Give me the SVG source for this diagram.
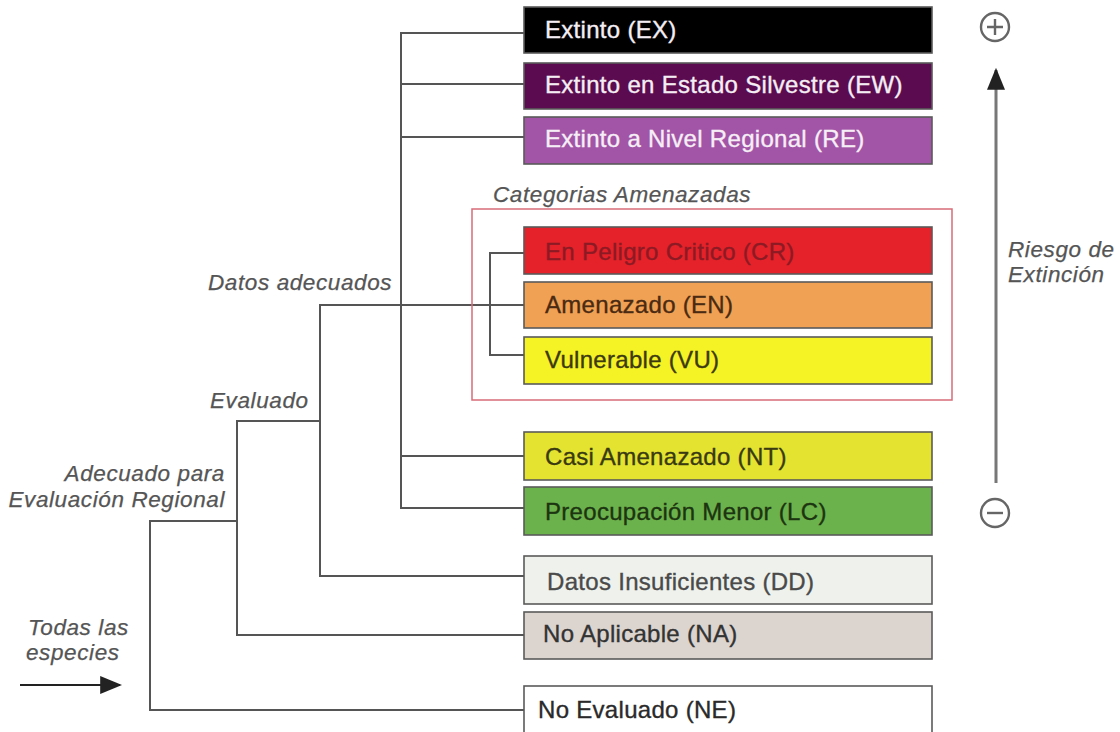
<svg xmlns="http://www.w3.org/2000/svg" width="1120" height="732" viewBox="0 0 1120 732">
<defs>
<style>
.box{stroke:#5a5a5a;stroke-width:1.6}
.bt{font-family:"Liberation Sans",Arial,sans-serif;font-size:24px;letter-spacing:0.3px;stroke-width:0.35px}
.lbl{font-family:"Liberation Sans",Arial,sans-serif;font-size:22.5px;font-style:italic;fill:#555;stroke:#555;stroke-width:0.25px;letter-spacing:0.6px}
.con{fill:none;stroke:#555;stroke-width:2}
.sym{fill:none;stroke:#666;stroke-width:2.4}
</style>
<marker id="ah2" viewBox="0 0 10 10" refX="9" refY="5" markerWidth="22" markerHeight="18" markerUnits="userSpaceOnUse" orient="auto" preserveAspectRatio="none">
<path d="M0,0 L10,5 L0,10 z" fill="#222"/>
</marker>
</defs>
<rect width="1120" height="732" fill="#fff"/>

<g id="connectors">
<path class="con" d="M524,33 H401 V508 H524 M401,84 H524 M401,137 H524 M401,456 H524"/>
<path class="con" d="M524,305 H320 V576 H524"/>
<path class="con" d="M524,253 H490 V355 H524"/>
<path class="con" d="M320,421 H237 V635 H524"/>
<path class="con" d="M237,521 H150 V710 H524"/>
<path d="M20,685 H120" stroke="#222" stroke-width="2.2" fill="none" marker-end="url(#ah2)"/>
<path d="M996,483 V70" stroke="#777" stroke-width="3" fill="none" marker-end="url(#ah2)"/>
</g>

<g id="frame-amenazadas">
<rect x="472" y="209" width="480" height="191" fill="none" stroke="#d76b78" stroke-width="1.5"/>
<text class="lbl" x="493" y="202">Categorias Amenazadas</text>
</g>

<g id="node-EX"><rect class="box" x="524" y="7" width="408" height="46" fill="#000"/><text class="bt" x="545" y="38" fill="#f4eef4" stroke="#f4eef4">Extinto (EX)</text></g>
<g id="node-EW"><rect class="box" x="524" y="63" width="408" height="46" fill="#5b0b4f"/><text class="bt" x="545" y="93" fill="#f4eef4" stroke="#f4eef4">Extinto en Estado Silvestre (EW)</text></g>
<g id="node-RE"><rect class="box" x="524" y="117" width="408" height="47" fill="#a255a6"/><text class="bt" x="545" y="147" fill="#f6eef6" stroke="#f6eef6">Extinto a Nivel Regional (RE)</text></g>
<g id="node-CR"><rect class="box" x="524" y="227" width="408" height="47" fill="#e52229"/><text class="bt" x="545" y="260" fill="#8c1a24" stroke="#8c1a24">En Peligro Critico (CR)</text></g>
<g id="node-EN"><rect class="box" x="524" y="282" width="408" height="46" fill="#f0a154"/><text class="bt" x="545" y="313" fill="#4a2a12" stroke="#4a2a12">Amenazado (EN)</text></g>
<g id="node-VU"><rect class="box" x="524" y="337" width="408" height="47" fill="#f5f226"/><text class="bt" x="545" y="368" fill="#3d3a10" stroke="#3d3a10">Vulnerable (VU)</text></g>
<g id="node-NT"><rect class="box" x="524" y="432" width="408" height="48" fill="#e4e330"/><text class="bt" x="545" y="465" fill="#3a3a12" stroke="#3a3a12">Casi Amenazado (NT)</text></g>
<g id="node-LC"><rect class="box" x="524" y="487" width="408" height="48" fill="#6cb24c"/><text class="bt" x="545" y="520" fill="#1c3510" stroke="#1c3510">Preocupación Menor (LC)</text></g>
<g id="node-DD"><rect class="box" x="524" y="556" width="408" height="48" fill="#eef1ec"/><text class="bt" x="547" y="590" fill="#4a4a4a" stroke="#4a4a4a">Datos Insuficientes (DD)</text></g>
<g id="node-NA"><rect class="box" x="524" y="612" width="408" height="47" fill="#dcd4cf"/><text class="bt" x="543" y="642" fill="#333" stroke="#333">No Aplicable (NA)</text></g>
<g id="node-NE"><rect class="box" x="524" y="686" width="408" height="60" fill="#fff"/><text class="bt" x="538" y="718" fill="#2a2a2a" stroke="#2a2a2a">No Evaluado (NE)</text></g>

<g id="labels">
<text class="lbl" x="208" y="290">Datos adecuados</text>
<text class="lbl" x="210" y="408">Evaluado</text>
<text class="lbl" x="225" y="481" text-anchor="end">Adecuado para</text>
<text class="lbl" x="225" y="507" text-anchor="end">Evaluación Regional</text>
<text class="lbl" x="28" y="635">Todas las</text>
<text class="lbl" x="26" y="660">especies</text>
<text class="lbl" x="1008" y="257">Riesgo de</text>
<text class="lbl" x="1008" y="282">Extinción</text>
</g>

<g id="risk-symbols">
<circle class="sym" cx="995" cy="27" r="14"/>
<path class="sym" d="M987,27 H1003 M995,19 V35"/>
<circle class="sym" cx="995" cy="513" r="14"/>
<path class="sym" d="M987,513 H1003"/>
</g>
</svg>
